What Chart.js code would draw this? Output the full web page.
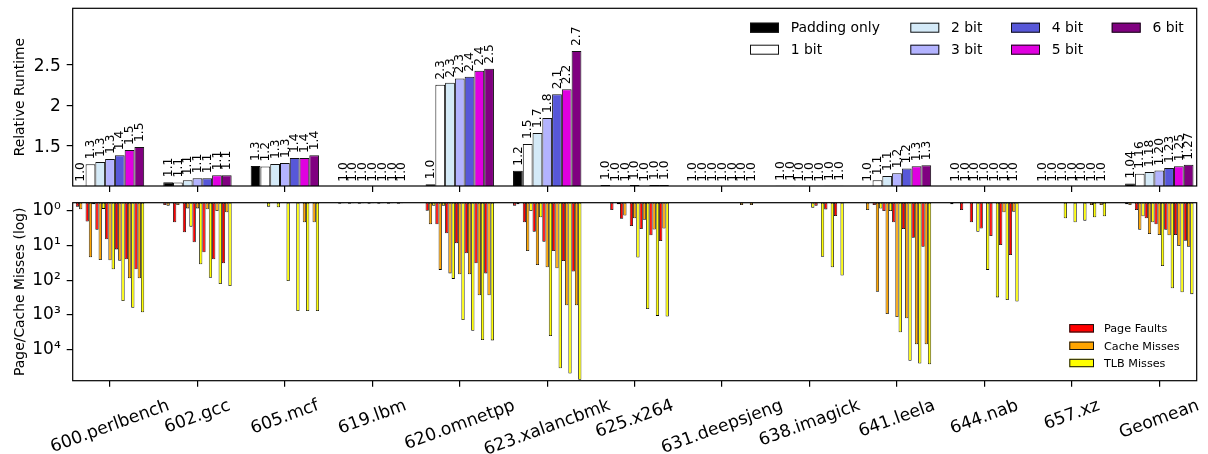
<!DOCTYPE html>
<html><head><meta charset="utf-8">
<script src="https://cdn.jsdelivr.net/npm/chart.js@4.4.1/dist/chart.umd.min.js"></script>
<style>
html,body{margin:0;padding:0;background:#fff;}
#wrap{position:relative;width:1208px;height:454px;overflow:hidden;}
canvas{position:absolute;left:0;top:0;}
</style></head><body>
<div id="wrap"><canvas id="bot" width="1208" height="454"></canvas><canvas id="top" width="1208" height="454"></canvas></div>
<script>
const benchmarks = ['600.perlbench','602.gcc','605.mcf','619.lbm','620.omnetpp','623.xalancbmk','625.x264','631.deepsjeng','638.imagick','641.leela','644.nab','657.xz','Geomean'];
const configs = ['Padding only','1 bit','2 bit','3 bit','4 bit','5 bit','6 bit'];
const configColors = ['#000000','#ffffff','#d4eaf8','#b3b3ff','#5757d9','#e000e0','#800080'];

// Relative runtime, one array per configuration (13 benchmarks each)
const runtimePaddingOnly = [1.0, 1.055, 1.255, 1.0, 1.03, 1.197, 1.02, 1.0, 1.012, 1.0, 1.0, 1.0, 1.04];
const runtime1bit = [1.276, 1.052, 1.248, 1.0, 2.255, 1.525, 1.0, 1.0, 1.012, 1.079, 1.0, 1.0, 1.16];
const runtime2bit = [1.304, 1.079, 1.279, 1.0, 2.28, 1.66, 1.0, 1.0, 1.0, 1.132, 1.0, 1.0, 1.18];
const runtime3bit = [1.341, 1.103, 1.29, 1.0, 2.33, 1.845, 1.02, 1.0, 1.0, 1.165, 1.0, 1.0, 1.20];
const runtime4bit = [1.386, 1.103, 1.352, 1.0, 2.352, 2.136, 1.0, 1.0, 1.0, 1.222, 1.0, 1.0, 1.23];
const runtime5bit = [1.452, 1.14, 1.352, 1.0, 2.425, 2.198, 1.02, 1.0, 1.012, 1.251, 1.0, 1.0, 1.25];
const runtime6bit = [1.488, 1.14, 1.386, 1.0, 2.452, 2.669, 1.02, 1.0, 1.012, 1.263, 1.0, 1.0, 1.27];
const runtimeTicks = [1.5, 2, 2.5];

// Misses: one row per benchmark, 7 values (Padding only, 1..6 bit); null = no bar
const metrics = ['Page Faults','Cache Misses','TLB Misses'];
const metricColors = ['#ff0000','#ffa500','#ffff00'];
const pageFaults = [
  [0.75, 2.0, 3.5, 6.5, 12.8, 24.8, 48],
  [0.67, 2.12, 4.12, 8.0, 15.6, 24.8, 32],
  [null, null, null, null, null, null, null],
  [0.62, 0.62, 0.62, 0.62, 0.62, 0.62, 0.62],
  [0.98, 2.43, 4.4, 8.5, 16.6, 32, 63],
  [0.70, 2.12, 3.95, 7.7, 14.2, 27.7, 56],
  [null, 0.94, 1.67, 2.7, 3.3, 5.0, 7.3],
  [null, null, null, null, null, null, null],
  [null, null, null, null, 0.70, 0.9, 1.4],
  [null, 0.67, 1.0, 2.12, 3.3, 5.9, 10.7],
  [0.64, 0.94, 2.1, 3.2, 5.3, 9.6, 18.6],
  [null, null, null, null, null, null, null],
  [0.64, 0.94, 1.63, 2.43, 3.5, 4.9, 7.2]
];
const cacheMisses = [
  [0.89, 21.7, 25.9, 26.4, 27, 87, 87],
  [0.7, 0.67, 0.84, 0.84, 0.89, 1.0, 1.09],
  [null, null, null, null, null, 2.12, 2.12],
  [0.6, 0.6, 0.6, 0.6, 0.6, 0.6, 0.6],
  [2.43, 50, 63, 67, 67, 271, 271],
  [0.64, 14.2, 36, 42, 45, 525, 525],
  [null, null, 1.35, 1.63, 1.8, 3.4, 3.2],
  [null, null, null, null, null, 0.67, 0.67],
  [null, null, null, null, null, null, null],
  [0.94, 213, 935, 1140, 1250, 7000, 7000],
  [null, null, null, null, null, 1.09, 1.05],
  [null, null, null, null, null, 0.67, 0.67],
  [0.67, 3.5, 4.6, 4.9, 5.0, 10.2, 10.7]
];
const tlbMisses = [
  [null, 0.64, 0.87, 48, 395, 615, 830],
  [null, null, 2.83, 34.4, 84, 127, 145],
  [null, 0.75, 0.78, 104, 770, 770, 770],
  [null, null, null, null, null, null, null],
  [0.70, 0.7, 91, 1390, 2850, 5300, 5400],
  [null, 1.0, 1.52, 4040, 34500, 49000, 74000],
  [null, 0.64, null, 22, 670, 1060, 1100],
  [null, null, null, null, null, null, null],
  [null, null, null, 0.8, 20.8, 42, 73],
  [null, 0.85, 1.0, 3150, 21000, 25000, 26500],
  [null, null, 3.95, 50, 310, 370, 410],
  [null, null, 1.63, 2.12, 1.9, 1.52, 1.41],
  [null, 1.41, 2.12, 38.6, 170, 220, 250]
];
const missTicks = [1, 10, 100, 1000, 10000];
const missTickLabels = ['10\u2070','10\u00B9','10\u00B2','10\u00B3','10\u2074'];

const FONT = '"DejaVu Sans", sans-serif';
const X_MIN = -0.4266, X_MAX = 12.4277;
const LEFT_W = 72.7, RIGHT_PAD = 11.3;

const runtimeSeries = [runtimePaddingOnly, runtime1bit, runtime2bit, runtime3bit, runtime4bit, runtime5bit, runtime6bit];

function zeroPad(s) { s.paddingTop = 0; s.paddingBottom = 0; s.paddingLeft = 0; s.paddingRight = 0; }

function xAxis(h) {
  return {
    type: 'linear', min: X_MIN, max: X_MAX, offset: false, bounds: 'data',
    grid: { display: true, drawOnChartArea: false, drawTicks: true, tickLength: 6, color: '#000', lineWidth: 1.2, offset: false },
    border: { display: false },
    ticks: { display: false },
    afterBuildTicks: s => { s.ticks = benchmarks.map((b, i) => ({ value: i })); },
    afterFit: s => { s.height = h; zeroPad(s); }
  };
}

const framePlugin = {
  id: 'frame',
  afterDraw(chart) {
    const a = chart.chartArea, ctx = chart.ctx;
    ctx.save();
    ctx.strokeStyle = '#000';
    ctx.lineWidth = 1.2;
    ctx.strokeRect(a.left, a.top, a.right - a.left, a.bottom - a.top);
    ctx.restore();
  }
};

const valueLabels = {
  id: 'valueLabels',
  afterDatasetsDraw(chart) {
    const ctx = chart.ctx;
    const y0 = chart.scales.y.getPixelForValue(1.0);
    ctx.save();
    ctx.font = '12.3px ' + FONT;
    ctx.fillStyle = '#000';
    ctx.textAlign = 'left';
    ctx.textBaseline = 'middle';
    chart.data.datasets.forEach((ds, di) => {
      const meta = chart.getDatasetMeta(di);
      meta.data.forEach((bar, i) => {
        const v = ds.data[i].y;
        const txt = ds.data[i].x === benchmarks.length - 1 ? v.toFixed(2) : v.toFixed(1);
        ctx.save();
        ctx.translate(bar.x + 0.5, Math.min(bar.y, y0) - 5);
        ctx.rotate(-Math.PI / 2);
        ctx.fillText(txt, 0, 0);
        ctx.restore();
      });
    });
    ctx.restore();
  }
};

const legendTop = {
  id: 'legendTop',
  afterDraw(chart) {
    const ctx = chart.ctx;
    const colX = [750, 910.3, 1011, 1111.7];
    const rowY = [27.7, 49.7];
    ctx.save();
    ctx.font = '13.9px ' + FONT;
    ctx.textBaseline = 'middle';
    ctx.textAlign = 'left';
    chart.data.datasets.forEach((ds, k) => {
      const x = colX[Math.floor(k / 2)], y = rowY[k % 2];
      ctx.fillStyle = ds.backgroundColor;
      ctx.fillRect(x, y - 5, 29, 10);
      ctx.strokeStyle = '#111'; ctx.lineWidth = 1;
      ctx.strokeRect(x + 0.5, y - 5 + 0.5, 28, 9);
      ctx.fillStyle = '#000';
      ctx.fillText(ds.label, x + 40.7, y + 1);
    });
    ctx.restore();
  }
};

const legendBottom = {
  id: 'legendBottom',
  afterDraw(chart) {
    const ctx = chart.ctx;
    const rowY = [328.3, 345.8, 363];
    ctx.save();
    ctx.font = '11.2px ' + FONT;
    ctx.textBaseline = 'middle';
    ctx.textAlign = 'left';
    metrics.forEach((m, k) => {
      const x = 1069.3, y = rowY[k];
      ctx.fillStyle = metricColors[k];
      ctx.fillRect(x, y - 4.2, 24.7, 8.4);
      ctx.strokeStyle = '#111'; ctx.lineWidth = 1;
      ctx.strokeRect(x + 0.5, y - 4.2 + 0.5, 23.7, 7.4);
      ctx.fillStyle = '#000';
      ctx.fillText(m, 1104, y + 1);
    });
    ctx.restore();
  }
};

const xLabels = {
  id: 'xLabels',
  afterDraw(chart) {
    const ctx = chart.ctx, xs = chart.scales.x;
    const fs = 17.3;
    const th = 20 * Math.PI / 180;
    const y0 = chart.chartArea.bottom + 15;
    ctx.save();
    ctx.font = fs + 'px ' + FONT;
    ctx.fillStyle = '#000';
    ctx.textAlign = 'center';
    ctx.textBaseline = 'middle';
    benchmarks.forEach((b, i) => {
      const px = xs.getPixelForValue(i);
      const W = ctx.measureText(b).width;
      const H = fs * 1.17;
      const cy = y0 + (W * Math.sin(th) + H * Math.cos(th)) / 2;
      ctx.save();
      ctx.translate(px, cy);
      ctx.rotate(-th);
      ctx.fillText(b, 0, 0);
      ctx.restore();
    });
    ctx.restore();
  }
};

// ---------- Top chart: relative runtime ----------
new Chart(document.getElementById('top'), {
  type: 'bar',
  data: {
    datasets: runtimeSeries.map((arr, k) => ({
      label: configs[k],
      data: arr.map((v, i) => ({ x: i, y: v })),
      backgroundColor: configColors[k],
      borderColor: '#111',
      borderWidth: 1,
      borderSkipped: false,
      categoryPercentage: 0.782,
      barPercentage: 1.0
    }))
  },
  options: {
    responsive: false, animation: false, maintainAspectRatio: false,
    layout: { padding: { left: 0, right: RIGHT_PAD, top: 8.3, bottom: 0 } },
    plugins: { legend: { display: false }, tooltip: { enabled: false } },
    scales: {
      x: xAxis(454 - 186),
      y: {
        type: 'linear', min: 1.008, max: 3.195, bounds: 'data',
        grid: { display: true, drawOnChartArea: false, drawTicks: true, tickLength: 6, color: '#000', lineWidth: 1.2 },
        border: { display: false },
        afterBuildTicks: s => { s.ticks = runtimeTicks.map(v => ({ value: v })); },
        ticks: { padding: 6, labelOffset: 1.5, color: '#000', font: { family: FONT, size: 17 }, callback: v => String(v) },
        title: { display: true, text: 'Relative Runtime', color: '#000', font: { family: FONT, size: 13.9 }, padding: { top: 11.7, bottom: 0 } },
        afterFit: s => { s.width = LEFT_W; zeroPad(s); }
      }
    }
  },
  plugins: [framePlugin, valueLabels, legendTop]
});

// ---------- Bottom chart: misses (log, inverted) ----------
const missSeries = [pageFaults, cacheMisses, tlbMisses];
const missDatasets = [];
configs.forEach((c, k) => {
  missSeries.forEach((rows, m) => {
    missDatasets.push({
      label: metrics[m] + ' (' + c + ')',
      data: rows.map((r, i) => ({ x: i, y: r[k] })).filter(p => p.y !== null),
      backgroundColor: metricColors[m],
      borderColor: '#000',
      borderWidth: 0.8,
      borderSkipped: false,
      categoryPercentage: 0.782,
      barPercentage: 1.0
    });
  });
});

new Chart(document.getElementById('bot'), {
  type: 'bar',
  data: { datasets: missDatasets },
  options: {
    responsive: false, animation: false, maintainAspectRatio: false,
    layout: { padding: { left: 0, right: RIGHT_PAD, top: 202.7, bottom: 0 } },
    plugins: { legend: { display: false }, tooltip: { enabled: false } },
    scales: {
      x: xAxis(454 - 380.7),
      y: {
        type: 'logarithmic', min: 0.576, max: 78500, reverse: true, bounds: 'data',
        grid: { display: true, drawOnChartArea: false, drawTicks: true, tickLength: 6, color: '#000', lineWidth: 1.2 },
        border: { display: false },
        afterBuildTicks: s => { s.ticks = missTicks.map(v => ({ value: v })); },
        ticks: { padding: 6, color: '#000', font: { family: FONT, size: 17 },
          callback: v => { const i = missTicks.indexOf(v); return i >= 0 ? missTickLabels[i] : ''; } },
        title: { display: true, text: 'Page/Cache Misses (log)', color: '#000', font: { family: FONT, size: 13.9 }, padding: { top: 11.7, bottom: 0 } },
        afterFit: s => { s.width = LEFT_W; zeroPad(s); }
      }
    }
  },
  plugins: [framePlugin, legendBottom, xLabels]
});
</script>
</body></html>
